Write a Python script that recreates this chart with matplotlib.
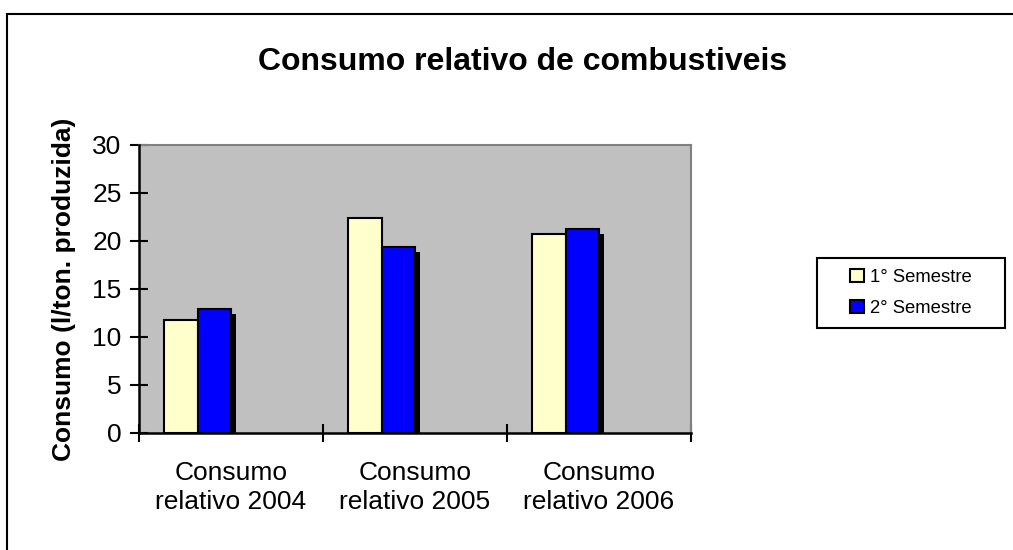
# Consumo relativo de combustiveis - grafico de barras estilo Excel
import numpy as np
import matplotlib
matplotlib.use('Agg')
import matplotlib.pyplot as plt
import matplotlib.patches as mpatches
import matplotlib.patheffects as pe

plt.rcParams['font.family'] = ['Liberation Sans', 'DejaVu Sans']

# dados
categorias = ['Consumo\nrelativo 2004', 'Consumo\nrelativo 2005', 'Consumo\nrelativo 2006']
semestre1 = [11.8, 22.4, 20.7]
semestre2 = [12.9, 19.4, 21.2]
series = ['1° Semestre', '2° Semestre']
y_ticks = [0, 5, 10, 15, 20, 25, 30]

W, H = 1013, 550
fig = plt.figure(figsize=(W / 100, H / 100), dpi=100)
fig.patch.set_facecolor('white')

# area do grafico (pixels medidos na imagem)
left, right, top, bottom = 139, 691, 145, 433
ax = fig.add_axes([left / W, 1 - bottom / H, (right - left) / W, (bottom - top) / H])
ax.set_facecolor('#C0C0C0')

x = np.arange(len(categorias))
w = 0.182
ax.bar(x - 2 * w, semestre1, width=w, align='edge', color='#FFFFCC',
       edgecolor='black', linewidth=1.5, zorder=2)
ax.bar(x - w, semestre2, width=w, align='edge', color='#0000FF',
       edgecolor='black', linewidth=1.5, zorder=3,
       path_effects=[pe.SimplePatchShadow(offset=(3.6, -3.6), shadow_rgbFace='black', alpha=1),
                     pe.Normal()])

ax.set_xlim(-0.5, len(categorias) - 0.5)
ax.set_ylim(0, 30)

# eixos
for s in ['top', 'right']:
    ax.spines[s].set_color('#808080')
    ax.spines[s].set_linewidth(1.5)
for s in ['left', 'bottom']:
    ax.spines[s].set_color('black')
    ax.spines[s].set_linewidth(1.8)
    ax.spines[s].set_zorder(5)

ax.set_yticks(y_ticks)
ax.tick_params(axis='y', direction='inout', length=13, width=1.5, labelsize=19, pad=6)
ax.set_xticks(np.arange(len(categorias) + 1) - 0.5)
ax.set_xticklabels([])
ax.tick_params(axis='x', which='major', direction='inout', length=13, width=1.5)
ax.set_xticks(x, minor=True)
ax.set_xticklabels(categorias, minor=True)
ax.tick_params(axis='x', which='minor', length=0, labelsize=19, pad=20)
for lbl in ax.get_xticklabels(minor=True):
    lbl.set_linespacing(1.27)

# titulo e rotulo do eixo y
fig.text(523 / W, 1 - 62 / H, 'Consumo relativo de combustiveis', ha='center', va='center',
         fontsize=23, fontweight='bold')
fig.text(64 / W, 1 - 289 / H, 'Consumo (l/ton. produzida)', ha='center', va='center',
         rotation=90, fontsize=19, fontweight='bold')

# legenda (sem moldura; a moldura vai separada)
lx0, lx1, ly0, ly1 = 817, 1005, 258, 328
handles = [mpatches.Patch(facecolor='#FFFFCC', edgecolor='black', linewidth=1.5),
           mpatches.Patch(facecolor='#0000FF', edgecolor='black', linewidth=1.5)]
leg = fig.legend(handles, series, loc='center',
                 bbox_to_anchor=((lx0 + lx1) / 2 / W, 1 - (ly0 + ly1) / 2 / H),
                 fontsize=13.3, frameon=False, handlelength=0.75,
                 handleheight=0.75, handletextpad=0.3, labelspacing=0.75,
                 borderpad=0, borderaxespad=0)
fig.patches.append(mpatches.Rectangle((lx0 / W, 1 - ly1 / H), (lx1 - lx0) / W, (ly1 - ly0) / H,
                                      fill=False, edgecolor='black', linewidth=1.5,
                                      transform=fig.transFigure, figure=fig))

# borda do grafico
fig.patches.append(mpatches.Rectangle((7 / W, -0.1), 1.2, 1 - 14 / H + 0.1, fill=False,
                                      edgecolor='black', linewidth=1.5,
                                      transform=fig.transFigure, figure=fig))

fig.savefig('out.png', dpi=100)
